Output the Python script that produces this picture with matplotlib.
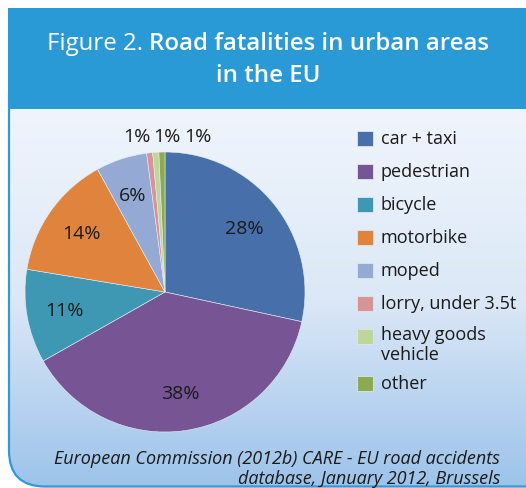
import numpy as np
import matplotlib.pyplot as plt
from matplotlib.patches import FancyBboxPatch, Rectangle
from matplotlib.colors import LinearSegmentedColormap

categories = ['car + taxi', 'pedestrian', 'bicycle', 'motorbike', 'moped',
              'lorry, under 3.5t', 'heavy goods\nvehicle', 'other']
shares = [28.4, 38.4, 10.8, 14.4, 5.9, 0.7, 0.7, 0.7]
colors = ['#4770AA', '#775595', '#3F98B3', '#E0843D', '#94A9D3',
          '#D69495', '#BED59C', '#8BAA52']

title_plain = 'Figure 2.'
title_bold = ['Road fatalities in urban areas', 'in the EU']
source = 'European Commission (2012b) CARE - EU road accidents\ndatabase, January 2012, Brussels'

plt.rcParams['font.family'] = ['Open Sans', 'DejaVu Sans']

W, H = 526, 489
fig = plt.figure(figsize=(W / 100, H / 100), dpi=100)
fig.patch.set_facecolor('white')

# background axes in pixel units
bg = fig.add_axes([0, 0, 1, 1])
bg.set_xlim(0, W)
bg.set_ylim(H, 0)
bg.axis('off')

# light blue panel with gradient
panel = FancyBboxPatch((9, 60), 560, 427.5, boxstyle='round,pad=0,rounding_size=36',
                       fc='none', ec='#2E9AD7', lw=1.6, zorder=3)
bg.add_patch(panel)
grad = np.linspace(0, 1, 256).reshape(-1, 1)
cmap = LinearSegmentedColormap.from_list('panel', ['#F0F5FC', '#DCE8F7', '#9DC3EA'])
im = bg.imshow(grad, cmap=cmap, aspect='auto', extent=(9, 569, 488, 110), zorder=1)
im.set_clip_path(panel)

# header
bg.add_patch(Rectangle((8, 9), 530, 101, fc='#2A9AD6', ec='none', zorder=4))

r = fig.canvas.get_renderer()
t1 = bg.text(0, 44, title_plain, color='white', fontsize=17.3, va='center', zorder=5)
t2 = bg.text(0, 44, title_bold[0], color='white', fontsize=17.3, weight='semibold',
             va='center', zorder=5)
w1 = t1.get_window_extent(r).width
w2 = t2.get_window_extent(r).width
x0 = 268 - (w1 + 6 + w2) / 2
t1.set_x(x0)
t2.set_x(x0 + w1 + 6)
bg.text(268, 76, title_bold[1], color='white', fontsize=17.3, weight='semibold',
        ha='center', va='center', zorder=5)

# pie
cx, cy, rad = 165, 293, 140
pax = fig.add_axes([(cx - rad) / W, 1 - (cy + rad) / H, 2 * rad / W, 2 * rad / H])
wedges, texts, autotexts = pax.pie(shares, colors=colors, startangle=90, counterclock=False,
                                   autopct='%.0f%%', pctdistance=0.73,
                                   wedgeprops=dict(edgecolor='#E8EEF8', linewidth=0.4),
                                   textprops=dict(fontsize=14, color='#1A1A1A'))
pax.set_xlim(-1, 1)
pax.set_ylim(-1, 1)
for w in wedges:
    w.set_clip_on(False)
# small slices labelled above the pie
for t, dx in zip(autotexts[5:], [-0.20, 0.01, 0.235]):
    t.set_position((dx, 1.115))
    t.set_clip_on(False)

# legend
y = 139
for name, col in zip(categories, colors):
    bg.add_patch(Rectangle((357, y - 7.5), 15.5, 15, fc=col, ec='#DDE6F2', lw=0.6, zorder=5))
    if '\n' in name:
        bg.text(381, y - 11, name, fontsize=13, color='#1A1A1A', va='top',
                linespacing=1.12, zorder=5)
        y += 14
    else:
        bg.text(381, y, name, fontsize=13, color='#1A1A1A', va='center', zorder=5)
    y += 33

# source
bg.text(500, 469, source, fontsize=13, style='italic', color='#1A1A1A',
        ha='right', va='center', linespacing=1.1, multialignment='right', zorder=5)

fig.savefig('out.png', dpi=100)
